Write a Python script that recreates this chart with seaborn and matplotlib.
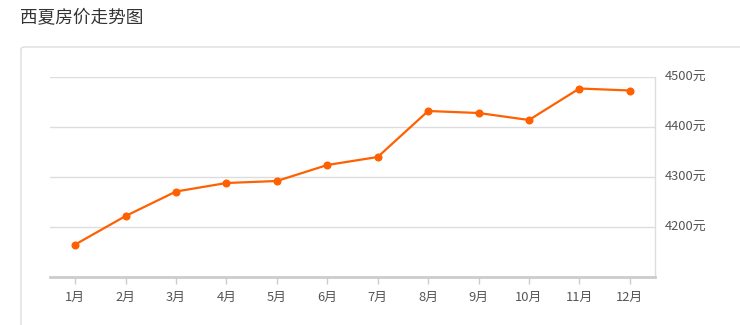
import matplotlib
matplotlib.use("Agg")
import matplotlib.pyplot as plt
from matplotlib.patches import FancyBboxPatch
import seaborn as sns
import pandas as pd

months = ["1月", "2月", "3月", "4月", "5月", "6月", "7月", "8月", "9月", "10月", "11月", "12月"]
prices = [4165, 4222, 4271, 4288, 4292, 4324, 4340, 4432, 4428, 4414, 4477, 4473]
ytick_values = [4200, 4300, 4400, 4500]
ytick_labels = ["4200元", "4300元", "4400元", "4500元"]
title = "西夏房价走势图"

sns.set_theme(style="white")
plt.rcParams['font.family'] = ['Noto Sans CJK SC', 'DejaVu Sans']

W, H = 740, 325
fig = plt.figure(figsize=(W / 100, H / 100), dpi=100)

# panel box
box = FancyBboxPatch((21 / W, -0.1), 1.0, 1 - 47 / H + 0.1,
                     boxstyle="round,pad=0,rounding_size=0.006",
                     transform=fig.transFigure, facecolor="white",
                     edgecolor="#dddddd", linewidth=1.0, zorder=-5)
fig.patches.append(box)

fig.text(20 / W, 1 - 18 / H, title, fontsize=12.7, color="#333333",
         ha="left", va="center")

ax = fig.add_axes([50 / W, 1 - 277 / H, (655 - 50) / W, (277 - 77) / H])
ax.set_zorder(2)
ax.set_facecolor("none")

df = pd.DataFrame({"month": months, "price": prices})
sns.lineplot(data=df, x="month", y="price", ax=ax, sort=False,
             color="#ff6000", linewidth=1.6, marker="o", markersize=5.8,
             markeredgewidth=0, zorder=3)

ax.set_xlim(-0.5, len(months) - 0.5)
ax.set_ylim(4100, 4500)
ax.set_yticks(ytick_values)
ax.set_yticklabels(ytick_labels)
ax.yaxis.tick_right()
ax.grid(axis="y", color="#dddddd", linewidth=1.0)
ax.set_axisbelow(True)
ax.set_xlabel("")
ax.set_ylabel("")

for s in ["left", "top"]:
    ax.spines[s].set_visible(False)
ax.spines["right"].set_color("#dddddd")
ax.spines["right"].set_linewidth(1.0)
ax.spines["bottom"].set_color("#cccccc")
ax.spines["bottom"].set_linewidth(2.0)

ax.tick_params(axis="x", colors="#cccccc", labelcolor="#555555", labelsize=9.3,
               length=5, width=1, pad=5, bottom=True)
ax.tick_params(axis="y", labelcolor="#555555", labelsize=9.3, length=0, pad=7,
               right=False)
for lbl in ax.get_yticklabels():
    lbl.set_verticalalignment("center")

fig.savefig("out.png", dpi=100)
